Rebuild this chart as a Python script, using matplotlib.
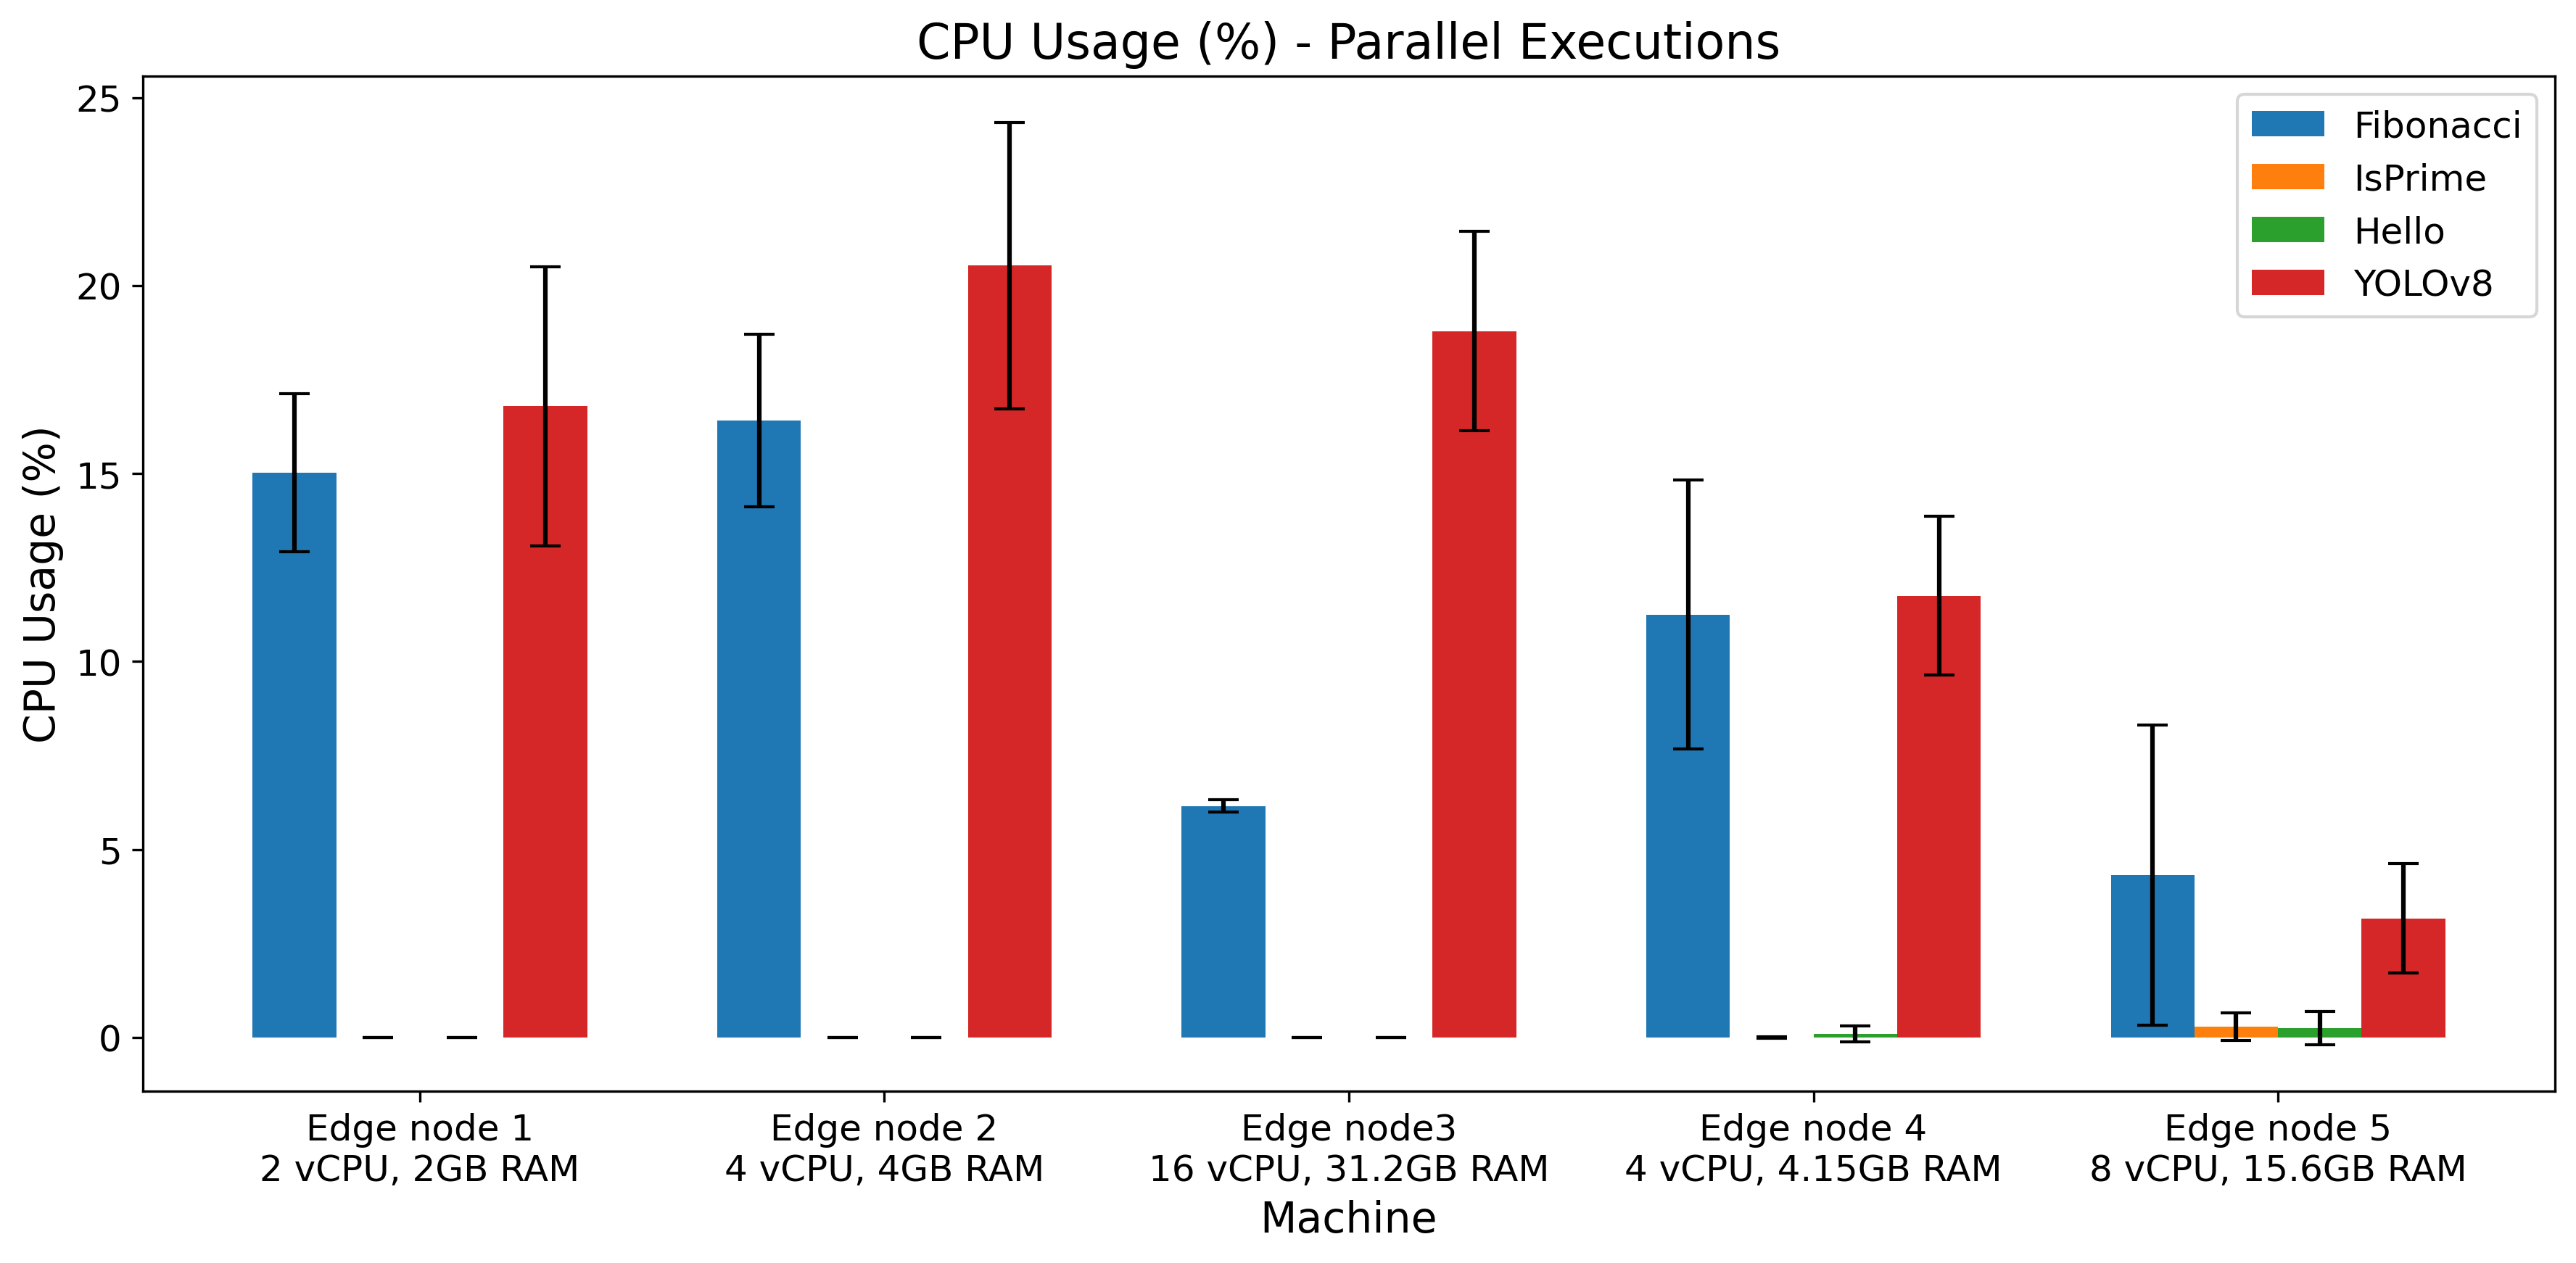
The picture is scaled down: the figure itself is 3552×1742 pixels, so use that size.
import numpy as np
import matplotlib
matplotlib.use("Agg")
import matplotlib.pyplot as plt

# Daten
machines = ["Edge node 1\n2 vCPU, 2GB RAM",
            "Edge node 2\n4 vCPU, 4GB RAM",
            "Edge node3\n16 vCPU, 31.2GB RAM",
            "Edge node 4\n4 vCPU, 4.15GB RAM",
            "Edge node 5\n8 vCPU, 15.6GB RAM"]
tasks = ["Fibonacci", "IsPrime", "Hello", "YOLOv8"]

fib_mean = [15.02, 16.41, 6.16, 11.25, 4.32]
fib_std = [2.10, 2.30, 0.17, 3.58, 4.00]
prime_mean = [0.0, 0.0, 0.0, 0.0, 0.29]
prime_std = [0.0, 0.0, 0.0, 0.02, 0.37]
hello_mean = [0.0, 0.0, 0.0, 0.09, 0.245]
hello_std = [0.0, 0.0, 0.0, 0.21, 0.445]
yolo_mean = [16.79, 20.53, 18.79, 11.75, 3.17]
yolo_std = [3.72, 3.81, 2.65, 2.11, 1.45]

means = [fib_mean, prime_mean, hello_mean, yolo_mean]
stds = [fib_std, prime_std, hello_std, yolo_std]

# Einstellung des Graphen
fig = plt.figure(figsize=(11.84, 5.81), dpi=300)
ax = fig.add_subplot(1, 1, 1)
fig.subplots_adjust(left=0.0555, right=0.9918, bottom=0.136, top=0.939)

x = np.arange(len(machines))
w = 0.18

for i, (task, m, s) in enumerate(zip(tasks, means, stds)):
    ax.bar(x + i * w, m, w, yerr=s, capsize=5, label=task)

ax.set_xticks(x + 1.5 * w)
ax.set_xticklabels(machines)
ax.tick_params(labelsize=12)

ax.set_title("CPU Usage (%) - Parallel Executions", fontsize=16)
ax.set_xlabel("Machine", fontsize=14)
ax.set_ylabel("CPU Usage (%)", fontsize=14)
ax.legend(fontsize=12)

fig.savefig("out.png", dpi=300)
